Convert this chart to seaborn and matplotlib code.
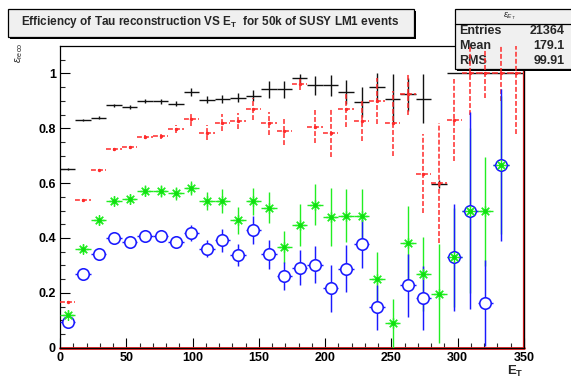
import numpy as np
import pandas as pd
import matplotlib
matplotlib.use("Agg")
import matplotlib.pyplot as plt
import seaborn as sns
from matplotlib.patches import Rectangle

# E_T binning: 30 bins from 0 to 350
et_edges = np.linspace(0, 350, 31)
et_centers = 0.5 * (et_edges[:-1] + et_edges[1:])
et_halfwidth = 0.5 * (et_edges[1:] - et_edges[:-1])

nan = np.nan
black_eff = [0.651, 0.830, 0.839, 0.884, 0.879, 0.899, 0.899, 0.890, 0.932, 0.904,
             0.908, 0.911, 0.918, 0.942, 0.942, 0.982, 0.956, 0.956, 0.932, 0.896,
             0.951, 0.908, 0.924, 0.908, 0.597, 1.000, 1.000, 1.000, 1.000, 1.000]
black_err = [0.004, 0.004, 0.005, 0.006, 0.007, 0.008, 0.009, 0.010, 0.014, 0.012,
             0.015, 0.016, 0.020, 0.030, 0.030, 0.016, 0.036, 0.040, 0.045, 0.055,
             0.050, 0.089, 0.060, 0.089, 0.015, 0.000, 0.000, 0.000, 0.000, 0.000]

red_eff = [0.167, 0.537, 0.648, 0.723, 0.730, 0.769, 0.771, 0.797, 0.833, 0.784,
           0.821, 0.827, 0.869, 0.818, 0.790, 0.960, 0.805, 0.784, 0.869, 0.827,
           0.899, 0.818, 0.924, 0.635, 0.600, 0.830, 1.000, 1.000, 1.000, 1.000]
red_err = [0.004, 0.005, 0.005, 0.006, 0.007, 0.008, 0.010, 0.016, 0.024, 0.027,
           0.030, 0.030, 0.040, 0.042, 0.050, 0.020, 0.060, 0.088, 0.064, 0.073,
           0.085, 0.118, 0.076, 0.145, 0.220, 0.150, 0.150, 0.090, 0.100, 0.220]

green_eff = [0.121, 0.361, 0.464, 0.536, 0.542, 0.573, 0.573, 0.563, 0.582, 0.534,
             0.534, 0.464, 0.534, 0.510, 0.367, 0.448, 0.522, 0.478, 0.482, 0.482,
             0.249, 0.089, 0.383, 0.270, 0.197, 0.330, 0.500, 0.497, 0.666, nan]
green_err = [0.018, 0.016, 0.017, 0.017, 0.018, 0.020, 0.022, 0.024, 0.027, 0.032,
             0.044, 0.048, 0.050, 0.057, 0.057, 0.076, 0.076, 0.106, 0.095, 0.095,
             0.100, 0.090, 0.135, 0.135, 0.180, 0.180, 0.300, 0.200, 0.250, nan]

blue_eff = [0.094, 0.267, 0.343, 0.400, 0.387, 0.406, 0.406, 0.387, 0.418, 0.361,
            0.391, 0.337, 0.430, 0.340, 0.262, 0.292, 0.303, 0.216, 0.288, 0.379,
            0.147, nan, 0.228, 0.182, nan, 0.330, 0.500, 0.163, 0.666, nan]
blue_err = [0.012, 0.012, 0.013, 0.014, 0.015, 0.016, 0.018, 0.020, 0.028, 0.030,
            0.042, 0.040, 0.051, 0.053, 0.051, 0.065, 0.068, 0.087, 0.085, 0.090,
            0.082, nan, 0.115, 0.116, nan, 0.195, 0.360, 0.155, 0.276, nan]

stats_labels = ["Entries", "Mean", "RMS"]
stats_values = ["21364", "179.1", "99.91"]

title_text = r"Efficiency of Tau reconstruction VS E$_{\mathbf{T}}$  for 50k of SUSY LM1 events"

df = pd.DataFrame({"et": et_centers, "black": black_eff, "red": red_eff,
                   "green": green_eff, "blue": blue_eff})

sns.set_theme(style="white")
plt.rcParams["font.family"] = ["Liberation Sans", "DejaVu Sans"]
plt.rcParams["mathtext.fontset"] = "custom"
plt.rcParams["mathtext.rm"] = "Liberation Sans"
plt.rcParams["mathtext.bf"] = "Liberation Sans:bold"
plt.rcParams["mathtext.it"] = "Liberation Sans:italic"

W, H = 571, 383
fig = plt.figure(figsize=(W / 100, H / 100), dpi=100)
fig.patch.set_facecolor("white")

def fx(px):
    return px / W

def fy(py):
    return 1 - py / H

ax = fig.add_axes([fx(60), fy(347.7), fx(524) - fx(60), fy(46) - fy(347.7)])
ax.set_facecolor("white")
ax.set_xlim(0, 350)
ax.set_ylim(0, 1.1)

C_BLACK = "#111111"
C_RED = "#ff2a2a"
C_GREEN = "#22ee22"
C_BLUE = "#1a1aff"

# black: all reconstructed
ax.errorbar(df["et"], df["black"], xerr=et_halfwidth, yerr=black_err, fmt="none",
            ecolor=C_BLACK, elinewidth=1.0, capsize=0, zorder=2.1)

# red: dashed error bars with small dots
eb = ax.errorbar(df["et"], df["red"], xerr=et_halfwidth, yerr=red_err, fmt="none",
                 ecolor=C_RED, elinewidth=1.1, capsize=0, zorder=3)
for lc in eb[2]:
    lc.set_linestyle((0, (3.2, 1.4)))
sns.scatterplot(data=df, x="et", y="red", ax=ax, color=C_RED, s=6, linewidth=0,
                zorder=3.1, legend=False)

# green error bars
ax.errorbar(df["et"], df["green"], xerr=et_halfwidth, yerr=green_err, fmt="none",
            ecolor=C_GREEN, elinewidth=1.0, capsize=0, zorder=3.5)

# blue error bars and open circles
ax.errorbar(df["et"], df["blue"], xerr=et_halfwidth, yerr=blue_err, fmt="none",
            ecolor=C_BLUE, elinewidth=1.05, capsize=0, zorder=4)
sns.scatterplot(data=df, x="et", y="blue", ax=ax, color="white", edgecolor=C_BLUE,
                s=68, linewidth=1.15, zorder=4.5, legend=False)

# green asterisks on top
ax.plot(df["et"], df["green"], linestyle="none", marker=(8, 2, 0), markersize=7.5,
        markeredgecolor=C_GREEN, markeredgewidth=0.9, zorder=5)
sns.scatterplot(data=df, x="et", y="green", ax=ax, color="#11dd11", s=9, linewidth=0,
                zorder=5.1, legend=False)

# red outline along the bottom and right edges of the frame
ax.axhline(0, color="#e82020", lw=2.0, zorder=2.4, clip_on=False)
ax.axvline(350, color="#e82020", lw=1.6, zorder=2.4, clip_on=False)

ax.set_xlabel("")
ax.set_ylabel("")
for s in ax.spines.values():
    s.set_visible(True)
    s.set_color("black")
    s.set_linewidth(0.9)

ax.set_xticks(np.arange(0, 351, 50))
ax.set_xticks(np.arange(0, 351, 10), minor=True)
ax.set_yticks(np.arange(0, 1.01, 0.2))
ax.set_yticks(np.arange(0, 1.1, 0.05), minor=True)
ax.set_yticklabels(["0", "0.2", "0.4", "0.6", "0.8", "1"])
ax.tick_params(axis="both", which="major", direction="in", length=7, width=0.8,
               labelsize=9, pad=3, colors="black")
ax.tick_params(axis="both", which="minor", direction="in", length=3.6, width=0.8)
ax.tick_params(top=False, right=False, which="both")
ax.tick_params(bottom=True, left=True, which="both")
for lab in ax.get_xticklabels() + ax.get_yticklabels():
    lab.set_fontweight("bold")

# statistics box (drawn inside the axes so later markers can overlap it)
ft = fig.transFigure
ax.add_patch(Rectangle((fx(457), fy(71)), fx(580) - fx(457), fy(11) - fy(71),
                       transform=ft, facecolor="black", edgecolor="none",
                       clip_on=False, zorder=2.55))
ax.add_patch(Rectangle((fx(455), fy(69)), fx(580) - fx(455), fy(9) - fy(69),
                       transform=ft, facecolor="#f0f0f0", edgecolor="black", lw=0.9,
                       clip_on=False, zorder=2.6))
ax.plot([fx(455), fx(580)], [fy(23.5), fy(23.5)], transform=ft, color="black",
        lw=0.9, clip_on=False, zorder=2.65)
ax.text(fx(510), fy(16), r"$\epsilon_{E_T}$", transform=ft, ha="center", va="center",
        fontsize=6.5, zorder=2.7, clip_on=False)
for i, (lab, val) in enumerate(zip(stats_labels, stats_values)):
    yy = fy(31 + 15 * i)
    ax.text(fx(459), yy, lab, transform=ft, ha="left", va="center", fontsize=9,
            fontweight="bold", zorder=2.7, clip_on=False)
    ax.text(fx(565), yy, val, transform=ft, ha="right", va="center", fontsize=9,
            fontweight="bold", zorder=2.7, clip_on=False)

# title box
fig.patches.append(Rectangle((fx(10), fy(39)), fx(416) - fx(10), fy(11) - fy(39),
                             transform=ft, facecolor="black", edgecolor="none",
                             figure=fig))
fig.patches.append(Rectangle((fx(8), fy(37)), fx(414) - fx(8), fy(9) - fy(37),
                             transform=ft, facecolor="#f0f0f0", edgecolor="black",
                             lw=0.9, figure=fig))
fig.text(fx(210), fy(22), title_text, ha="center", va="center", fontsize=8.5,
         fontweight="bold")

# axis titles
fig.text(fx(19), fy(43), r"$\epsilon_{\mathrm{reco}}$", rotation=90, ha="center",
         va="top", fontsize=7.5)
fig.text(fx(524), fy(363.5), r"E$_{\mathbf{T}}$", ha="right", va="top", fontsize=9.5,
         fontweight="bold")

fig.savefig("out.png", dpi=100, facecolor="white")
